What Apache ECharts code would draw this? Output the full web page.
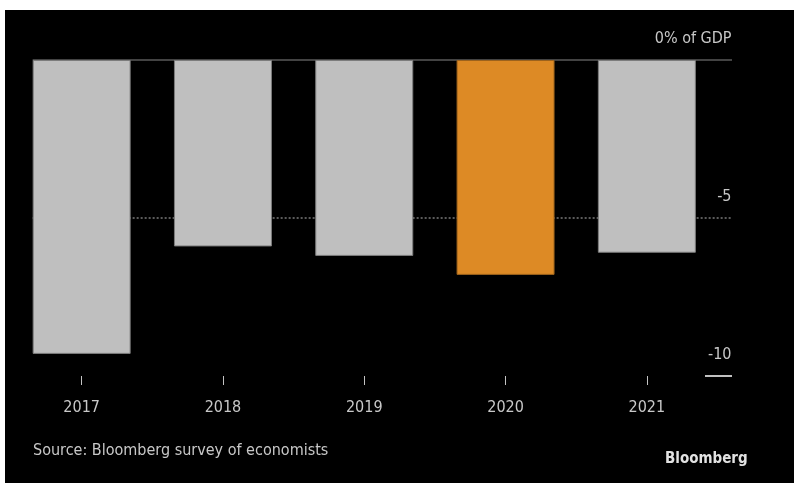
<!DOCTYPE html>
<html>
<head>
<meta charset="utf-8">
<script src="https://cdn.jsdelivr.net/npm/echarts@6/dist/echarts.min.js"></script>
<style>
  html, body { margin: 0; padding: 0; background: #ffffff; }
  #frame { position: absolute; left: 5px; top: 10px; width: 789px; height: 473px; background: #000; }
  #chart { position: absolute; left: 0; top: 0; width: 794px; height: 483px; }
</style>
</head>
<body>
<div id="frame"></div>
<div id="chart"></div>
<script>
const categories = ['2017', '2018', '2019', '2020', '2021'];
const values = [-9.3, -5.9, -6.2, -6.8, -6.1];
const highlightIndex = 3;
const yTickValues = [0, -5, -10];
const yTickLabels = { '0': '0% of GDP', '-5': '-5', '-10': '-10' };
const sourceText = 'Source: Bloomberg survey of economists';
const brandText = 'Bloomberg';

const FONT = "'DejaVu Sans Condensed', 'Liberation Sans Narrow', sans-serif";
const chart = echarts.init(document.getElementById('chart'), null, { renderer: 'canvas' });

const baseGraphic = [
  { type: 'text', left: 33, top: 443, style: { text: sourceText, fill: '#c8c8c8', font: "16px " + FONT } },
  { type: 'text', left: 665, top: 452, style: { text: brandText, fill: '#e2e2e2', font: "bold 15px " + FONT } }
];

const option = {
  backgroundColor: 'transparent',
  animation: false,
  grid: { left: 11, top: 60, width: 706.5, height: 316, containLabel: false },
  xAxis: {
    type: 'category',
    data: categories,
    position: 'bottom',
    axisLine: { show: true, onZero: false, lineStyle: { color: 'rgba(0,0,0,0)', width: 1 } },
    axisTick: { show: true, alignWithLabel: true, inside: false, length: 9, lineStyle: { color: '#c4c4c4', width: 1 } },
    axisLabel: { color: '#c8c8c8', fontFamily: FONT, fontSize: 16, margin: 24 }
  },
  yAxis: {
    type: 'value',
    position: 'right',
    min: -10, max: 0, interval: 5,
    axisLine: { show: false },
    axisTick: { show: false },
    splitLine: { show: false },
    axisLabel: {
      color: '#c8c8c8', fontFamily: FONT, fontSize: 16,
      align: 'right', verticalAlign: 'bottom', margin: 14,
      padding: [0, 0, 13, 0],
      formatter: v => yTickLabels[String(v)] !== undefined ? yTickLabels[String(v)] : ''
    }
  },
  series: [{
    type: 'bar',
    barWidth: 98,
    data: values.map((v, i) => ({
      value: v,
      itemStyle: i === highlightIndex
        ? { color: '#dd8a25', borderColor: '#9c621c', borderWidth: 1 }
        : { color: '#bfbfbf', borderColor: '#7c7c7c', borderWidth: 1 }
    }))
  }],
  graphic: baseGraphic
};
chart.setOption(option);

// reference lines computed from the axes
const firstBarLeft = chart.convertToPixel({ xAxisIndex: 0 }, categories[0]) - 49;
const lineRight = 732;
const y0 = chart.convertToPixel({ yAxisIndex: 0 }, yTickValues[0]);
const y5 = chart.convertToPixel({ yAxisIndex: 0 }, yTickValues[1]);
const y10 = chart.convertToPixel({ yAxisIndex: 0 }, yTickValues[2]);
chart.setOption({
  graphic: baseGraphic.concat([
    { type: 'line', z: -1, shape: { x1: firstBarLeft, y1: y0, x2: lineRight, y2: y0 }, style: { stroke: '#5a5a5a', lineWidth: 1.5 } },
    { type: 'line', z: -1, shape: { x1: firstBarLeft, y1: y5, x2: lineRight, y2: y5 }, style: { stroke: '#7a7a7a', lineWidth: 1.5, lineDash: [2, 2] } },
    { type: 'line', z: -1, shape: { x1: 705, y1: y10, x2: lineRight, y2: y10 }, style: { stroke: '#c0c0c0', lineWidth: 2 } }
  ])
}, { replaceMerge: ['graphic'] });
</script>
</body>
</html>
